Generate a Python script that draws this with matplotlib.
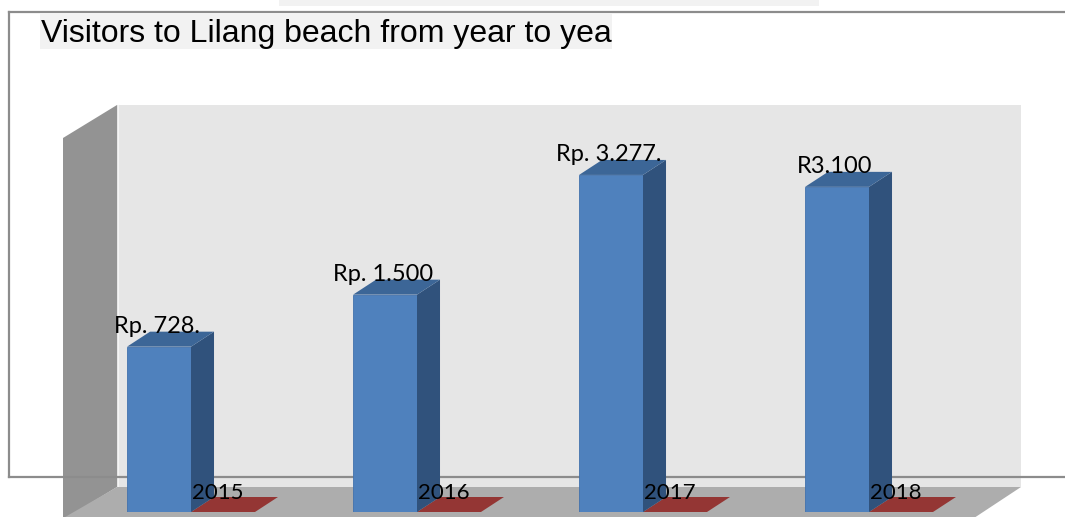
import numpy as np
import matplotlib.pyplot as plt
from matplotlib.patches import Polygon, Rectangle

# data
years = ['2015', '2016', '2017', '2018']
visitors = [728, 1500, 3277, 3100]
labels = ['Rp. 728.', 'Rp. 1.500', 'Rp. 3.277.', 'R3.100']
second_series = [0, 0, 0, 0]

W, H = 1065, 517
fig = plt.figure(figsize=(W / 100, H / 100), dpi=100)

# background layer in pixel units (frame, walls, floor)
bg = fig.add_axes([0, 0, 1, 1])
bg.set_xlim(0, W)
bg.set_ylim(H, 0)
bg.axis('off')

bg.add_patch(Rectangle((279, -1), 540, 7, color='#f2f2f2', lw=0))
bg.add_patch(Rectangle((117, 105), 904, 382, color='#e6e6e6', lw=0, zorder=1))
bg.add_patch(Polygon([(63, 138), (117, 105), (117, 487), (63, 520)], closed=True,
                     color='#939393', lw=0, zorder=1))
bg.plot([117.5, 117.5], [105, 487], color='#f4f4f4', lw=0.8, zorder=1.5)
bg.add_patch(Polygon([(117, 487), (1021, 487), (971, 520), (60, 520)], closed=True,
                     color='#adadad', lw=0, zorder=2))
# outer frame
bg.plot([9, W + 5], [12, 12], color='#8c8c8c', lw=1.6, zorder=3)
bg.plot([9, 9], [12, 477], color='#8c8c8c', lw=1.6, zorder=3)
bg.plot([9, W + 5], [477, 477], color='#8c8c8c', lw=1.6, zorder=3)
# title box
bg.add_patch(Rectangle((40, 13), 572, 36, color='#f2f2f2', lw=0, zorder=3))
bg.text(41, 42, 'Visitors to Lilang beach from year to yea', fontsize=23,
        family=['Liberation Sans Narrow', 'Liberation Sans'], va='baseline', ha='left',
        color='black', zorder=4)

# chart layer
ax = fig.add_axes([117 / W, 5 / H, 904 / W, 407 / H])
ax.patch.set_visible(False)
ax.axis('off')
floor = -1726
ax.set_xlim(-0.186, 3.814)
ax.set_ylim(floor, 4315)

x = np.arange(len(years))
vals = np.array(visitors, dtype=float)
w = 0.283
# depth of the 3d effect, in pixels -> data units
xspan = ax.get_xlim()[1] - ax.get_xlim()[0]
yspan = ax.get_ylim()[1] - ax.get_ylim()[0]
ddx = 23 * xspan / 904
ddy = 15 * yspan / 407

front = '#4f81bd'
side = '#30527c'
top = '#3c6697'

# zero-valued second series (flat red pads on the floor)
for xi, v in zip(x, second_series):
    l, r = xi + w / 2, xi + 1.5 * w
    ax.add_patch(Polygon([(l, floor + v), (r, floor + v), (r + ddx, floor + v + ddy),
                          (l + ddx, floor + v + ddy)], closed=True, color='#943634',
                         lw=0, zorder=2))

ax.bar(x, vals - floor, bottom=floor, width=w, color=front, edgecolor='#4272ad',
       lw=0.6, zorder=3)
for xi, v in zip(x, vals):
    l, r = xi - w / 2, xi + w / 2
    ax.add_patch(Polygon([(r, floor), (r + ddx, floor + ddy), (r + ddx, v + ddy), (r, v)],
                         closed=True, color=side, lw=0, zorder=3))
    ax.add_patch(Polygon([(l, v), (r, v), (r + ddx, v + ddy), (l + ddx, v + ddy)],
                         closed=True, color=top, lw=0, zorder=3))

lab_font = ['Lato', 'DejaVu Sans']
for xi, v, t in zip(x, vals, labels):
    ax.annotate(t, (xi, v), xytext=(-2, 20), textcoords='offset pixels', ha='center',
                va='center', fontsize=17, family=lab_font, zorder=5)
for xi, t in zip(x, years):
    ax.annotate(t, (xi, floor), xytext=(59, 19), textcoords='offset pixels', ha='center',
                va='center', fontsize=16, family=lab_font, zorder=5)

fig.savefig('out.png', dpi=100)
